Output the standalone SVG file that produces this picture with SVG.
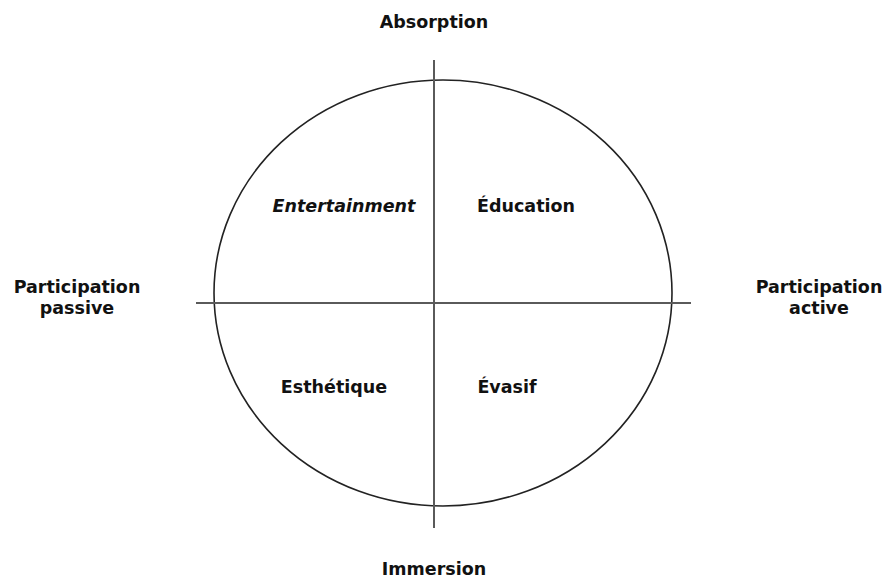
<svg xmlns="http://www.w3.org/2000/svg" width="887" height="580" viewBox="0 0 887 580">
<style>
  .lbl { font-family: "DejaVu Sans", "Liberation Sans", sans-serif; font-weight: bold; font-size: 17.5px; fill: #111; text-anchor: middle; }
  .it { font-style: italic; }
  .axis { stroke: #5a5a5a; stroke-width: 2; fill: none; }
  .circ { stroke: #222; stroke-width: 1.6; fill: none; }
</style>
<rect width="887" height="580" fill="#fff"/>
<g id="circle">
  <ellipse class="circ" cx="443" cy="293" rx="229" ry="213"/>
</g>
<g id="connectors">
  <line class="axis" x1="434" y1="60" x2="434" y2="528"/>
  <line class="axis" x1="196" y1="303" x2="691" y2="303"/>
</g>
<g id="absorption"><text class="lbl" x="434" y="28">Absorption</text></g>
<g id="immersion"><text class="lbl" x="434" y="575">Immersion</text></g>
<g id="passive"><text class="lbl" x="77" y="293">Participation</text><text class="lbl" x="77" y="314">passive</text></g>
<g id="active"><text class="lbl" x="819" y="293">Participation</text><text class="lbl" x="819" y="314">active</text></g>
<g id="entertainment"><text class="lbl it" x="344" y="212">Entertainment</text></g>
<g id="education"><text class="lbl" x="526" y="212">Éducation</text></g>
<g id="esthetique"><text class="lbl" x="334" y="393">Esthétique</text></g>
<g id="evasif"><text class="lbl" x="507" y="393">Évasif</text></g>
</svg>
